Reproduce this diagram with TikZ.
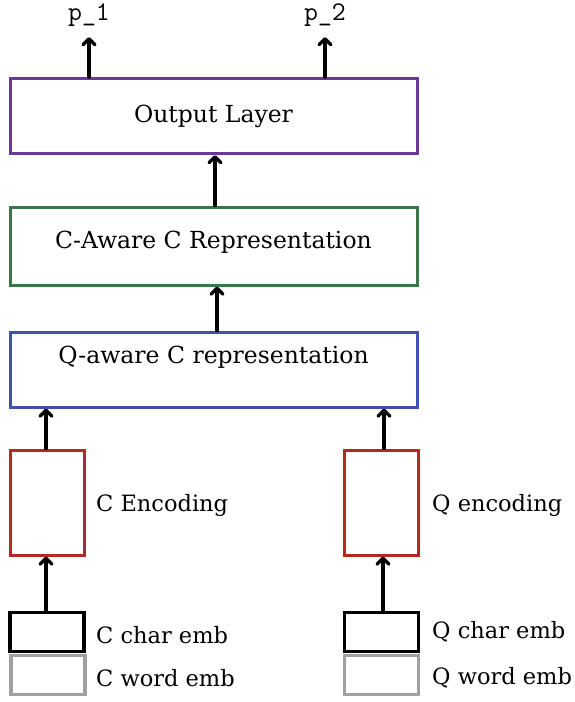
\documentclass[tikz,border=0pt]{standalone}
\usepackage{fontspec}
\setmainfont{DejaVu Serif}
\usetikzlibrary{arrows.meta,positioning}
\definecolor{outpurple}{RGB}{105,55,150}
\definecolor{awgreen}{RGB}{55,120,70}
\definecolor{qblue}{RGB}{65,80,170}
\definecolor{encred}{RGB}{180,40,40}
\definecolor{embgrey}{RGB}{160,160,160}
\tikzset{
block/.style = {draw, fill=white, rectangle, line width=3pt, minimum width=407pt, minimum height=75pt, inner sep=0pt},
enc/.style = {draw=encred, rectangle, line width=3pt, minimum width=74pt, minimum height=105pt},
emb/.style = {draw, rectangle, line width=3.4pt, minimum width=74pt, minimum height=39pt},
tag/.style = {anchor=west, inner sep=0pt, font=\fontsize{22.5}{27}\selectfont},
prob/.style = {font=\ttfamily\fontsize{27}{30}\selectfont},
flow/.style = {->, line width=3.4pt, line cap=round}
}
\begin{document}
\begin{tikzpicture}[x=1pt, y=-1pt, >={Straight Barb[length=6pt,width=12pt,round]}, font=\fontsize{23.5}{28}\selectfont]
	\useasboundingbox (0,0) rectangle (574,702);
	\node[block, draw=outpurple] (outlayer) at (213.5,116) {Output Layer};
	\node[block, draw=awgreen, minimum height=78pt] (caware) at (213.5,246) {};
	\node (cawaretxt) at (213.5,242) {C-Aware C Representation};
	\node[block, draw=qblue] (qaware) at (213.5,369.5) {};
	\node (qawaretxt) at (213.5,357) {Q-aware C representation};
	\node[enc] (cenc) at (47,502.5) {};
	\node[enc] (qenc) at (381.5,502.5) {};
	\node[emb] (cchar) at (47,632) {};
	\node[emb, draw=embgrey] (cword) at (48,675) {};
	\node[emb] (qchar) at (381.5,632) {};
	\node[emb, draw=embgrey] (qword) at (381.5,675) {};
	\node[tag] (cenctxt) at (96,505) {C Encoding};
	\node[tag] (qenctxt) at (432,505) {Q encoding};
	\node[tag] (cchartxt) at (96,635) {C char emb};
	\node[tag] (cwordtxt) at (96,678) {C word emb};
	\node[tag] (qchartxt) at (432,632) {Q char emb};
	\node[tag] (qwordtxt) at (432,678) {Q word emb};
	\node[prob] (p1) at (89,15) {p\_1};
	\node[prob] (p2) at (325,15) {p\_2};
	\coordinate (p1tip) at (89,37);
	\coordinate (p2tip) at (325,37);
	% arrows
	\draw[flow] (outlayer.north -| p1tip) -- (p1tip);
	\draw[flow] (outlayer.north -| p2tip) -- (p2tip);
	\draw[flow] (caware.north -| 215,0) -- (outlayer.south -| 215,0);
	\draw[flow] (qaware.north -| 217,0) -- (caware.south -| 217,0);
	\draw[flow] (cenc.north -| 46,0) -- (qaware.south -| 46,0);
	\draw[flow] (qenc.north -| 384,0) -- (qaware.south -| 384,0);
	\draw[flow] (cchar.north -| 46,0) -- (cenc.south -| 46,0);
	\draw[flow] (qchar.north -| 383,0) -- (qenc.south -| 383,0);
\end{tikzpicture}
\end{document}
